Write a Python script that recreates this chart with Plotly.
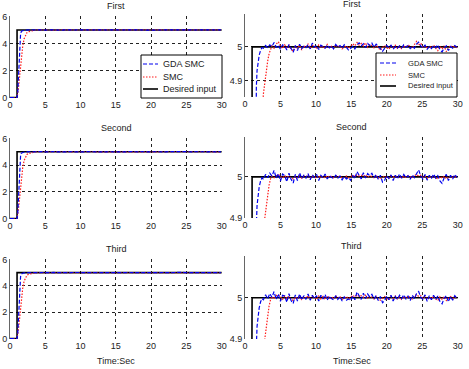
import plotly.graph_objects as go

# ---------------- data ----------------
desired_t = [0, 1, 1, 30]
desired_y = [0, 0, 5, 5]

gda_rise_t = [0, 1.0, 1.1, 1.2, 1.3, 1.4, 1.5, 1.6, 1.7, 1.8, 2.0, 2.2, 2.4]
gda_rise_y = [0, 0, 0.4, 1.6, 2.9, 4.0, 4.7, 4.88, 4.93, 4.95, 4.975, 4.99, 4.998]

smc_rise_t = [0, 1.0, 1.2, 1.4, 1.6, 1.8, 2.0, 2.2, 2.4, 2.6, 2.8, 3.0, 3.2, 3.4, 3.6]
smc_rise_y = [0, 0, 0.7, 1.9, 3.0, 3.8, 4.35, 4.65, 4.8, 4.862, 4.9, 4.93, 4.958, 4.98, 4.995]

# steady-state samples (GDA from t=2.6, SMC from t=3.8, every 0.3 s)
gda_first = [
    4.996, 5.004, 4.997, 5.006, 5.001, 5.013, 4.999, 5.005, 4.993, 5.006,
    5.002, 4.991, 5.007, 4.996, 4.984, 5.004, 4.989, 5.008, 4.995, 5.003,
    4.998, 5.006, 4.994, 5.011, 4.999, 5.004, 4.992, 5.005, 5.0, 4.996,
    5.005, 4.997, 5.003, 4.994, 5.007, 4.999, 5.004, 4.996, 5.006, 4.998,
    4.991, 4.995, 5.002, 4.994, 5.006, 5.012, 5.003, 5.009, 4.998, 5.01,
    5.004, 5.011, 4.999, 5.008, 5.002, 4.995, 4.987, 4.996, 5.004, 4.998,
    5.005, 4.993, 5.001, 4.996, 5.003, 4.997, 5.006, 4.999, 5.004, 4.995,
    5.002, 4.996, 5.008, 5.014, 5.003, 4.997, 5.005, 4.993, 5.001, 4.995,
    5.004, 4.998, 5.006, 4.992, 4.985, 4.997, 5.003, 4.989, 5.001, 4.996,
    5.004, 4.999]
smc_first = [
    5.003, 4.996, 5.008, 5.015, 5.002, 4.995, 5.006, 4.998, 5.004, 4.993,
    4.987, 5.002, 4.996, 5.005, 4.991, 5.003, 4.998, 5.009, 4.996, 5.004,
    5.001, 4.994, 5.006, 4.997, 5.003, 4.995, 5.007, 4.998, 5.002, 4.996,
    5.006, 4.999, 5.004, 4.994, 4.998, 5.003, 4.996, 5.002, 5.009, 5.003,
    5.013, 5.005, 5.01, 5.002, 5.012, 4.999, 5.008, 5.003, 4.997, 5.005,
    4.996, 4.99, 4.998, 5.004, 4.997, 4.993, 5.003, 4.998, 5.005, 4.996,
    5.002, 4.995, 5.004, 4.998, 5.006, 5.001, 4.996, 5.007, 5.016, 5.004,
    5.011, 4.998, 5.004, 4.995, 5.002, 4.997, 5.005, 4.996, 4.989, 5.002,
    4.994, 5.003, 4.986, 4.997, 5.004, 4.998, 5.002, 4.997]
gda_second = [
    4.994, 5.006, 4.998, 5.009, 5.002, 5.016, 4.997, 5.008, 4.99, 5.007,
    5.003, 4.988, 5.009, 4.994, 4.985, 5.006, 4.991, 5.01, 4.996, 5.004,
    4.997, 5.008, 4.993, 5.005, 4.999, 5.006, 4.991, 5.004, 4.998, 5.007,
    4.995, 5.003, 4.999, 4.996, 5.004, 4.997, 5.002, 4.993, 5.001, 4.995,
    4.998, 4.992, 5.003, 4.996, 5.013, 5.002, 4.995, 5.01, 4.997, 5.008,
    5.003, 5.009, 4.998, 5.006, 4.994, 5.004, 4.987, 4.992, 5.003, 4.996,
    5.005, 4.991, 5.004, 4.995, 5.007, 4.997, 5.006, 4.998, 5.003, 4.994,
    5.005, 4.998, 5.009, 5.017, 5.002, 4.995, 5.006, 4.992, 5.004, 4.996,
    5.007, 4.997, 5.003, 4.99, 4.984, 4.998, 5.006, 4.991, 5.004, 4.995,
    5.006, 4.999]
smc_second = [
    5.002, 4.998, 5.003, 5.006, 5.001, 4.997, 5.003, 4.999, 5.002, 4.997,
    4.995, 5.001, 4.998, 5.003, 4.997, 5.002, 4.999, 5.004, 4.998, 5.002,
    5.0, 4.997, 5.003, 4.998, 5.002, 4.997, 5.003, 4.999, 5.001, 4.998,
    5.003, 5.0, 5.002, 4.997, 4.999, 5.002, 4.998, 5.001, 5.004, 5.001,
    5.005, 5.002, 5.004, 5.001, 5.005, 4.999, 5.003, 5.001, 4.998, 5.002,
    4.998, 4.995, 4.999, 5.002, 4.998, 4.997, 5.002, 4.999, 5.003, 4.998,
    5.001, 4.997, 5.002, 4.999, 5.003, 5.0, 4.998, 5.003, 5.006, 5.002,
    5.004, 4.999, 5.002, 4.997, 5.001, 4.998, 5.003, 4.998, 4.995, 5.001,
    4.997, 5.002, 4.995, 4.999, 5.002, 4.999, 5.001, 4.998]
gda_third = [
    4.995, 5.007, 4.997, 5.01, 5.001, 5.015, 4.996, 5.009, 4.991, 5.006,
    5.004, 4.989, 5.01, 4.993, 4.986, 5.007, 4.992, 5.009, 4.995, 5.005,
    4.996, 5.009, 4.994, 5.006, 4.998, 5.005, 4.992, 5.006, 4.997, 5.008,
    4.994, 5.004, 4.998, 4.995, 5.005, 4.996, 5.003, 4.992, 5.002, 4.994,
    4.997, 4.993, 5.004, 4.995, 5.014, 5.003, 4.996, 5.011, 4.998, 5.009,
    5.002, 5.008, 4.997, 5.005, 4.993, 5.003, 4.988, 4.993, 5.004, 4.995,
    5.006, 4.992, 5.003, 4.996, 5.006, 4.998, 5.007, 4.997, 5.004, 4.993,
    5.006, 4.997, 5.01, 5.015, 5.001, 4.996, 5.007, 4.991, 5.005, 4.995,
    5.006, 4.996, 5.004, 4.991, 4.985, 4.999, 5.005, 4.99, 5.003, 4.994,
    5.005, 4.998]
smc_third = [
    5.003, 4.997, 5.005, 5.008, 5.002, 4.996, 5.004, 4.998, 5.003, 4.996,
    4.993, 5.002, 4.997, 5.004, 4.996, 5.003, 4.998, 5.005, 4.997, 5.003,
    5.001, 4.996, 5.004, 4.997, 5.003, 4.996, 5.004, 4.998, 5.002, 4.997,
    5.004, 4.999, 5.003, 4.996, 4.998, 5.003, 4.997, 5.002, 5.006, 5.002,
    5.007, 5.003, 5.005, 5.001, 5.006, 4.998, 5.004, 5.001, 4.997, 5.003,
    4.997, 4.994, 4.998, 5.003, 4.997, 4.996, 5.003, 4.998, 5.004, 4.997,
    5.002, 4.996, 5.003, 4.998, 5.004, 5.0, 4.997, 5.004, 5.008, 5.003,
    5.005, 4.998, 5.003, 4.996, 5.002, 4.997, 5.004, 4.997, 4.993, 5.002,
    4.996, 5.003, 4.993, 4.998, 5.003, 4.998, 5.002, 4.997]

gda_ss_t = [round(2.6 + 0.3 * i, 2) for i in range(len(gda_first))]
smc_ss_t = [round(3.8 + 0.3 * i, 2) for i in range(len(smc_first))]

panel_titles = ["First", "Second", "Third"]
x_ticks = [0, 5, 10, 15, 20, 25, 30]
left_y_ticks = [0, 2, 4, 6]
right_y_ticks = [4.9, 5]
right_ranges = [[4.852, 5.097], [4.899, 5.098], [4.899, 5.102]]
legend_names = ["GDA SMC", "SMC", "Desired input"]
x_label = "Time:Sec"

# ---------------- figure ----------------
FONT = "Liberation Sans, Arial, sans-serif"
TXT = "#222"
W, H = 469, 369
left_dom = [10 / W, 222 / W]
right_dom = [245 / W, 458 / W]
left_ydoms = [[1 - 98 / H, 1 - 16 / H], [1 - 219 / H, 1 - 138 / H], [1 - 339 / H, 1 - 259 / H]]
right_ydoms = [[1 - 97 / H, 1 - 14 / H], [1 - 218 / H, 1 - 137 / H], [1 - 339 / H, 1 - 256 / H]]

BLUE = dict(color="#0000ee", width=1.2, dash="4px,2px")
RED = dict(color="#ff1a1a", width=1.2, dash="1.5px,1.5px")
BLACK = dict(color="black", width=1.6)

series = [(gda_first, smc_first), (gda_second, smc_second), (gda_third, smc_third)]

fig = go.Figure()
layout = {}
for r in range(3):
    gda_ss, smc_ss = series[r]
    gt = gda_rise_t + gda_ss_t
    gy = gda_rise_y + gda_ss
    st = smc_rise_t + smc_ss_t
    sy = smc_rise_y + smc_ss
    for c in range(2):
        idx = r * 2 + c + 1
        xa = "x" if idx == 1 else f"x{idx}"
        ya = "y" if idx == 1 else f"y{idx}"
        fig.add_trace(go.Scatter(x=desired_t, y=desired_y, mode="lines", line=BLACK,
                                 name=legend_names[2], showlegend=False,
                                 xaxis=xa, yaxis=ya))
        fig.add_trace(go.Scatter(x=st, y=sy, mode="lines", line=RED,
                                 name=legend_names[1], showlegend=False,
                                 xaxis=xa, yaxis=ya))
        fig.add_trace(go.Scatter(x=gt, y=gy, mode="lines", line=BLUE,
                                 name=legend_names[0], showlegend=False,
                                 xaxis=xa, yaxis=ya))

        xkey = "xaxis" if idx == 1 else f"xaxis{idx}"
        ykey = "yaxis" if idx == 1 else f"yaxis{idx}"
        layout[xkey] = dict(domain=left_dom if c == 0 else right_dom,
                            anchor=ya, range=[0, 30.05], tickvals=x_ticks,
                            showgrid=True, gridcolor="#222", gridwidth=1,
                            griddash="3px,3px", zeroline=False, showline=False,
                            ticks="", automargin=False,
                            tickfont=dict(family=FONT, size=9, color=TXT),
                            fixedrange=True)
        if c == 0:
            layout[ykey] = dict(domain=left_ydoms[r], anchor=xa, range=[-0.03, 6.03],
                                tickvals=left_y_ticks)
        else:
            layout[ykey] = dict(domain=right_ydoms[r], anchor=xa, range=right_ranges[r],
                                tickvals=right_y_ticks, ticktext=["4.9", "5"])
        layout[ykey].update(showgrid=True, gridcolor="#222", gridwidth=1,
                            griddash="3px,3px", zeroline=False, showline=True,
                            linecolor="#666", linewidth=1, ticks="", automargin=False,
                            tickfont=dict(family=FONT, size=9, color=TXT))

fig.update_layout(**layout)

annotations = []
for r in range(3):
    for c in range(2):
        dom = left_dom if c == 0 else right_dom
        ydom = left_ydoms[r] if c == 0 else right_ydoms[r]
        annotations.append(dict(text=panel_titles[r], x=(dom[0] + dom[1]) / 2,
                                y=ydom[1] + 3 / H, xref="paper", yref="paper",
                                xanchor="center", yanchor="bottom", showarrow=False,
                                font=dict(family=FONT, size=9, color=TXT)))
for dom in (left_dom, right_dom):
    annotations.append(dict(text=x_label, x=(dom[0] + dom[1]) / 2, y=1 - 361 / H,
                            xref="paper", yref="paper", xanchor="center",
                            yanchor="middle", showarrow=False,
                            font=dict(family=FONT, size=9, color=TXT)))

# legend boxes (drawn in pixel positions of the reference, inside the top panels)
shapes = []
legend_boxes = [  # (box x0, x1, y0, y1, line x0, x1, text x, row ys, font size)
    (141, 222, 55, 98, 143, 158, 161, [64, 77, 89], 9),
    (376, 457, 53, 97, 380, 396, 406, [63, 75, 86], 7.6),
]
line_styles = [BLUE, RED, BLACK]
for (bx0, bx1, by0, by1, lx0, lx1, tx, rows, fs) in legend_boxes:
    shapes.append(dict(type="rect", xref="paper", yref="paper",
                       x0=bx0 / W, x1=bx1 / W, y0=1 - by1 / H, y1=1 - by0 / H,
                       line=dict(color="black", width=1), fillcolor="white", layer="above"))
    for name, sty, ry in zip(legend_names, line_styles, rows):
        shapes.append(dict(type="line", xref="paper", yref="paper",
                           x0=lx0 / W, x1=lx1 / W, y0=1 - ry / H, y1=1 - ry / H,
                           line=sty, layer="above"))
        annotations.append(dict(text=name, x=tx / W, y=1 - ry / H, xref="paper",
                                yref="paper", xanchor="left", yanchor="middle",
                                showarrow=False,
                                font=dict(family=FONT, size=fs, color=TXT)))

fig.update_layout(
    width=W, height=H,
    margin=dict(l=0, r=0, t=0, b=0, autoexpand=False),
    paper_bgcolor="white", plot_bgcolor="white",
    annotations=annotations, shapes=shapes, showlegend=False,
)

fig.write_html("out.html", config={"displayModeBar": False, "staticPlot": True})

# remove the default page margin so the 469x369 figure fills the window exactly
with open("out.html", "r", encoding="utf-8") as f:
    html = f.read()
html = html.replace("<head>", "<head><style>html,body{margin:0;padding:0;overflow:hidden;}</style>", 1)
with open("out.html", "w", encoding="utf-8") as f:
    f.write(html)
